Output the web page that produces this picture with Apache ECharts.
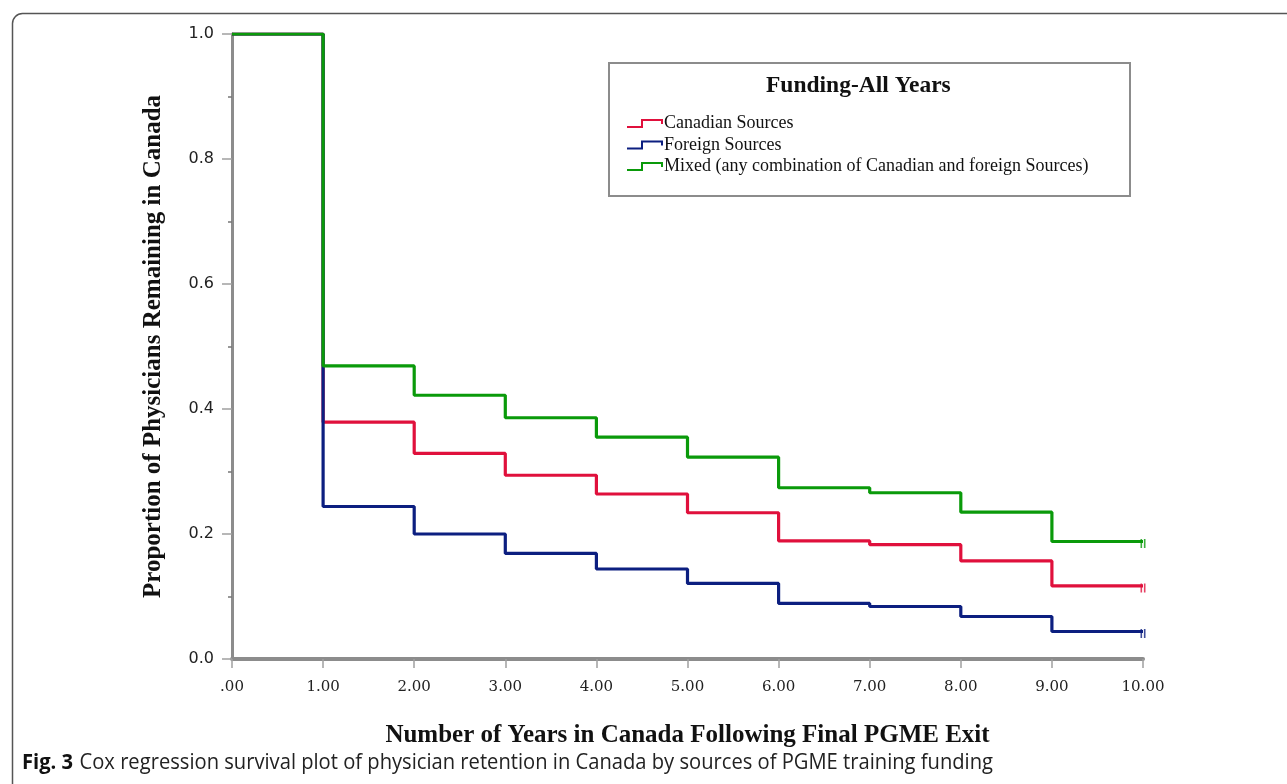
<!DOCTYPE html>
<html>
<head>
<meta charset="utf-8">
<script src="https://cdn.jsdelivr.net/npm/echarts@6/dist/echarts.min.js"></script>
<style>
  html, body { margin: 0; padding: 0; background: #ffffff; }
  #chart { width: 1287px; height: 784px; }
</style>
</head>
<body>
<div id="chart"></div>
<script>
// ---- Data ----
var years = [0, 1, 2, 3, 4, 5, 6, 7, 8, 9, 10];
var canadian = [1.0, 0.379, 0.329, 0.294, 0.264, 0.234, 0.189, 0.183, 0.157, 0.117, 0.117];
var foreign  = [1.0, 0.244, 0.200, 0.169, 0.144, 0.121, 0.089, 0.084, 0.068, 0.044, 0.044];
var mixed    = [1.0, 0.469, 0.422, 0.386, 0.355, 0.323, 0.274, 0.266, 0.235, 0.188, 0.188];
var seriesNames = ['Canadian Sources', 'Foreign Sources', 'Mixed (any combination of Canadian and foreign Sources)'];
var xTickLabels = ['.00', '1.00', '2.00', '3.00', '4.00', '5.00', '6.00', '7.00', '8.00', '9.00', '10.00'];
var yTickLabels = ['0.0', '0.2', '0.4', '0.6', '0.8', '1.0'];
var legendTitle = 'Funding-All Years';
var xTitle = 'Number of Years in Canada Following Final PGME Exit';
var yTitle = 'Proportion of Physicians Remaining in Canada';
var captionBold = 'Fig. 3';
var captionText = 'Cox regression survival plot of physician retention in Canada by sources of PGME training funding';

var colors = ['#e0103c', '#0c1f80', '#0a9a0a'];
var values = [canadian, foreign, mixed];

function pairs(arr) { return years.map(function (x, i) { return [x, arr[i]]; }); }

var stepIcon = 'path://M0,7 L14,7 L14,0 L36,0 L36,5 L34,5 L34,2 L16,2 L16,9 L0,9 Z';
var censorSymbol = 'path://M0,0 L1.6,0 L1.6,10 L0,10 Z M3.4,0 L5,0 L5,10 L3.4,10 Z';

var series = [];
for (var i = 0; i < 3; i++) {
  series.push({
    name: seriesNames[i],
    type: 'line',
    step: 'end',
    data: pairs(values[i]),
    showSymbol: false,
    symbol: 'none',
    lineStyle: { color: colors[i], width: 3.2 },
    itemStyle: { color: colors[i] },
    z: 3 + i,
    animation: false
  });
}
for (var j = 0; j < 3; j++) {
  var last = values[j].length - 1;
  series.push({
    name: seriesNames[j] + ' censored',
    type: 'scatter',
    data: [[years[last], values[j][last]]],
    symbol: censorSymbol,
    symbolSize: [5, 9],
    symbolOffset: [0, 2],
    itemStyle: { color: colors[j] },
    z: 6,
    silent: true,
    animation: false
  });
}

var chart = echarts.init(document.getElementById('chart'), null, { renderer: 'canvas' });
chart.setOption({
  animation: false,
  backgroundColor: '#ffffff',
  grid: { left: 232, right: 144, top: 34, bottom: 125 },
  xAxis: {
    type: 'value', min: 0, max: 10, interval: 1,
    name: xTitle, nameLocation: 'middle', nameGap: 64,
    nameTextStyle: { fontFamily: 'Liberation Serif', fontWeight: 'bold', fontSize: 25, color: '#111' },
    axisLine: { show: true, lineStyle: { color: '#8c8c8c', width: 4 } },
    axisTick: { show: true, length: 9, lineStyle: { color: '#a0a0a0', width: 1.5 } },
    axisLabel: {
      margin: 21, fontFamily: 'DejaVu Serif', fontSize: 15, color: '#222',
      formatter: function (v) { return xTickLabels[Math.round(v)]; }
    },
    splitLine: { show: false }
  },
  yAxis: {
    type: 'value', min: 0, max: 1, interval: 0.2,
    name: yTitle, nameLocation: 'middle', nameGap: 66, nameRotate: 90,
    nameTextStyle: { fontFamily: 'Liberation Serif', fontWeight: 'bold', fontSize: 25, color: '#111' },
    axisLine: { show: true, lineStyle: { color: '#8c8c8c', width: 3 } },
    axisTick: { show: true, length: 10, lineStyle: { color: '#a0a0a0', width: 1.5 } },
    minorTick: { show: true, splitNumber: 2, length: 4, lineStyle: { color: '#777', width: 1.5 } },
    axisLabel: {
      margin: 18, fontFamily: 'DejaVu Sans', fontSize: 16, color: '#222',
      formatter: function (v) { return yTickLabels[Math.round(v * 5)]; }
    },
    splitLine: { show: false }
  },
  legend: {
    data: seriesNames.map(function (n) { return { name: n, icon: stepIcon }; }),
    orient: 'vertical',
    left: 622, top: 109,
    itemWidth: 36, itemHeight: 9, itemGap: 2.5,
    selectedMode: false,
    textStyle: { fontFamily: 'Liberation Serif', fontSize: 18, color: '#111', padding: [0, 0, 0, -4], lineHeight: 19 },
    z: 10
  },
  graphic: [
    {
      type: 'rect', left: 10, top: 11, z: -10, silent: true,
      shape: { width: 1300, height: 800, r: [10, 0, 0, 0] },
      style: { fill: 'none', stroke: '#555', lineWidth: 1.5 }
    },
    {
      type: 'rect', left: 608, top: 62, z: 1, silent: true,
      shape: { width: 521, height: 133 },
      style: { fill: '#ffffff', stroke: '#8c8c8c', lineWidth: 2 }
    },
    {
      type: 'text', left: 766, top: 74, z: 2, silent: true,
      style: { text: legendTitle, font: 'bold 23.5px "Liberation Serif"', fill: '#111' }
    },
    {
      type: 'text', x: 22, y: 753, scaleX: 0.96, z: 2, silent: true,
      style: {
        text: '{b|' + captionBold + '}  {n|' + captionText + '}',
        rich: {
          b: { fontFamily: 'Open Sans', fontWeight: 'bold', fontSize: 21, fill: '#111' },
          n: { fontFamily: 'Open Sans', fontSize: 21, fill: '#222' }
        }
      }
    }
  ],
  series: series
});
</script>
</body>
</html>
